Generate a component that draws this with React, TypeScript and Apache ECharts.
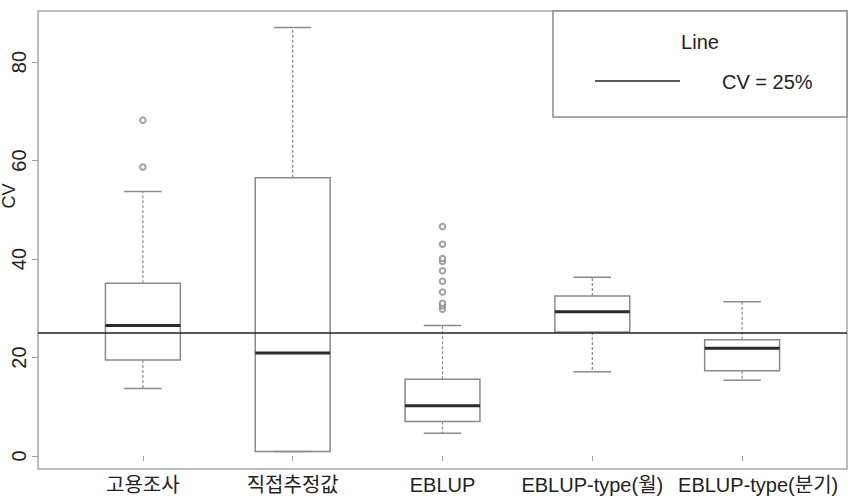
import React, { useEffect, useRef } from "react";
import * as echarts from "echarts";

const categories = ["고용조사", "직접추정값", "EBLUP", "EBLUP-type(월)", "EBLUP-type(분기)"];
const positions = [1, 2, 3, 4, 5];
const whiskerMin = [13.7, 0.9, 4.6, 17.1, 15.4];
const q1 = [19.5, 0.9, 7.0, 25.2, 17.3];
const median = [26.5, 20.9, 10.2, 29.3, 21.9];
const q3 = [35.1, 56.5, 15.6, 32.5, 23.6];
const whiskerMax = [53.7, 87.0, 26.5, 36.3, 31.3];
const outliers1 = [58.7, 68.2];
const outliers2: number[] = [];
const outliers3 = [29.8, 30.5, 31.0, 33.3, 35.5, 37.6, 39.5, 40.1, 43.0, 46.6];
const outliers4: number[] = [];
const outliers5: number[] = [];
const yTicks = [0, 20, 40, 60, 80];
const cvLine = 25;
const legendTitle = "Line";
const legendLabel = "CV = 25%";
const yAxisTitle = "CV";

const FONT = "'Liberation Sans', Arial, 'Noto Sans CJK KR', sans-serif";

export default function App() {
  const ref = useRef<HTMLDivElement>(null);

  useEffect(() => {
    document.body.style.margin = "0";
    if (!ref.current) return;
    const chart = echarts.init(ref.current, undefined, { renderer: "svg" });

    const boxData = positions.map((p, i) => [p, whiskerMin[i], q1[i], median[i], q3[i], whiskerMax[i]]);
    const outlierData = [outliers1, outliers2, outliers3, outliers4, outliers5].flatMap((arr, i) =>
      arr.map((v) => [positions[i], v])
    );

    const boxStroke = "#8a8a8a";

    const option: any = {
      animation: false,
      backgroundColor: "#ffffff",
      grid: {
        left: 38,
        right: 1,
        top: 11,
        bottom: 27,
        show: true,
        borderColor: "#a6a6a6",
        borderWidth: 1.5,
        backgroundColor: "transparent",
        containLabel: false,
        outerBoundsMode: "none",
      },
      xAxis: {
        type: "value",
        min: 0.3,
        max: 5.7,
        splitLine: { show: false },
        axisLine: { show: false },
        axisTick: {
          show: true,
          customValues: positions,
          length: 5,
          lineStyle: { color: "#a0a0a0", width: 1 },
        },
        axisLabel: {
          show: true,
          customValues: positions,
          fontSize: 20,
          fontFamily: FONT,
          color: "#222",
          margin: 6,
          formatter: (v: number) => {
            const idx = Math.round(v) - 1;
            const t = categories[idx] ?? "";
            if (idx === 4) return "{shift|" + t + "}";
            return t;
          },
          rich: {
            shift: {
              fontSize: 20,
              fontFamily: FONT,
              color: "#222",
              padding: [0, 0, 0, 32],
            },
          },
        },
      },
      yAxis: {
        type: "value",
        min: -2.64,
        max: 90.36,
        splitLine: { show: false },
        axisLine: { show: false },
        axisTick: {
          show: true,
          customValues: yTicks,
          length: 6,
          lineStyle: { color: "#a0a0a0", width: 1 },
        },
        axisLabel: {
          show: true,
          customValues: yTicks,
          rotate: 90,
          fontSize: 20,
          fontFamily: FONT,
          color: "#222",
          margin: 9,
        },
      },
      series: [
        {
          type: "custom",
          data: boxData,
          encode: { x: 0, y: [1, 2, 3, 4, 5] },
          renderItem: (params: any, api: any) => {
            const x = api.value(0);
            const pMin = api.coord([x, api.value(1)]);
            const pQ1 = api.coord([x, api.value(2)]);
            const pMed = api.coord([x, api.value(3)]);
            const pQ3 = api.coord([x, api.value(4)]);
            const pMax = api.coord([x, api.value(5)]);
            const unit = api.size([1, 0])[0];
            const hw = unit * 0.25;
            const cw = unit * 0.125;
            const cx = pMed[0];
            return {
              type: "group",
              children: [
                {
                  type: "line",
                  shape: { x1: cx, y1: pQ3[1], x2: cx, y2: pMax[1] },
                  style: { stroke: boxStroke, lineWidth: 1.2, lineDash: [3, 2] },
                },
                {
                  type: "line",
                  shape: { x1: cx, y1: pQ1[1], x2: cx, y2: pMin[1] },
                  style: { stroke: boxStroke, lineWidth: 1.2, lineDash: [3, 2] },
                },
                {
                  type: "line",
                  shape: { x1: cx - cw, y1: pMax[1], x2: cx + cw, y2: pMax[1] },
                  style: { stroke: boxStroke, lineWidth: 1.5 },
                },
                {
                  type: "line",
                  shape: { x1: cx - cw, y1: pMin[1], x2: cx + cw, y2: pMin[1] },
                  style: { stroke: boxStroke, lineWidth: 1.5 },
                },
                {
                  type: "rect",
                  shape: { x: cx - hw, y: pQ3[1], width: 2 * hw, height: pQ1[1] - pQ3[1] },
                  style: { fill: "rgba(0,0,0,0)", stroke: boxStroke, lineWidth: 1.5 },
                },
                {
                  type: "line",
                  shape: { x1: cx - hw, y1: pMed[1], x2: cx + hw, y2: pMed[1] },
                  style: { stroke: "#2a2a2a", lineWidth: 3 },
                },
              ],
            };
          },
        },
        {
          type: "scatter",
          data: outlierData,
          symbol: "emptyCircle",
          symbolSize: 5.5,
          itemStyle: { color: "#8a8a8a", borderColor: "#8a8a8a", borderWidth: 1 },
          markLine: {
            silent: true,
            symbol: ["none", "none"],
            label: { show: false },
            lineStyle: { color: "#222", width: 1.5, type: "solid" },
            data: [{ yAxis: cvLine }],
          },
        },
      ],
      graphic: [
        {
          type: "rect",
          shape: { x: 553, y: 11, width: 294, height: 106 },
          style: { fill: "#ffffff", stroke: "#8c8c8c", lineWidth: 1.5 },
          z: 10,
        },
        {
          type: "text",
          x: 700,
          y: 42,
          z: 11,
          style: {
            text: legendTitle,
            fontSize: 20,
            fontFamily: FONT,
            fill: "#222",
            align: "center",
            verticalAlign: "middle",
          },
        },
        {
          type: "line",
          shape: { x1: 595, y1: 81, x2: 680, y2: 81 },
          style: { stroke: "#222", lineWidth: 1.5 },
          z: 11,
        },
        {
          type: "text",
          x: 722,
          y: 82,
          z: 11,
          style: {
            text: legendLabel,
            fontSize: 20,
            fontFamily: FONT,
            fill: "#222",
            align: "left",
            verticalAlign: "middle",
          },
        },
        {
          type: "text",
          x: 9,
          y: 196,
          rotation: Math.PI / 2,
          z: 11,
          style: {
            text: yAxisTitle,
            fontSize: 18,
            fontFamily: FONT,
            fill: "#222",
            align: "center",
            verticalAlign: "middle",
          },
        },
      ],
    };

    chart.setOption(option);
    return () => chart.dispose();
  }, []);

  return (
    <div
      ref={ref}
      style={{ position: "fixed", left: 0, top: 0, width: 848, height: 496, background: "#fff" }}
    />
  );
}
